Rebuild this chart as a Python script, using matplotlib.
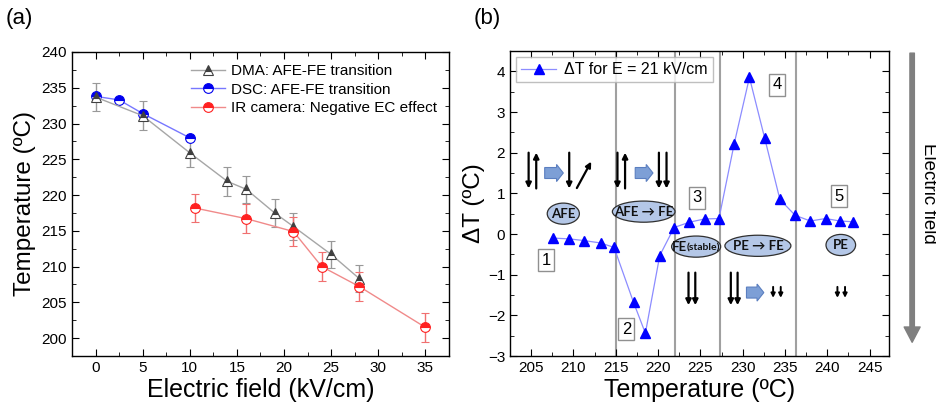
import numpy as np
import matplotlib
matplotlib.use("Agg")
import matplotlib.pyplot as plt
from matplotlib.patches import Ellipse, FancyArrow
from matplotlib.ticker import MultipleLocator

plt.rcParams['font.family'] = ['Liberation Sans', 'DejaVu Sans']

# ---- panel (a) data ----
dma_E = [0, 5, 10, 14, 16, 19, 21, 25, 28]
dma_T = [233.7, 231.1, 225.9, 221.9, 220.8, 217.5, 215.6, 211.7, 208.3]
dma_err = [2.0, 2.0, 2.0, 2.0, 1.9, 2.0, 1.9, 1.9, 1.9]

dsc_E = [0, 2.5, 5, 10]
dsc_T = [233.8, 233.3, 231.4, 228.0]

ir_E = [10.5, 16, 21, 24, 28, 35]
ir_T = [218.2, 216.7, 214.9, 210.0, 207.2, 201.5]
ir_err = [2.0, 2.0, 2.0, 2.0, 2.0, 2.0]

# ---- panel (b) data ----
temp_b = [207.6, 209.5, 211.2, 213.2, 214.8, 217.1, 218.5, 220.2, 221.9, 223.7, 225.5,
          227.2, 229.0, 230.8, 232.6, 234.4, 236.2, 238.0, 239.8, 241.5, 243.1]
dT_b = [-0.1, -0.12, -0.16, -0.22, -0.33, -1.68, -2.44, -0.53, 0.16, 0.29, 0.37,
        0.38, 2.22, 3.85, 2.36, 0.85, 0.46, 0.32, 0.38, 0.32, 0.30]
region_bounds = [215, 222, 227.3, 236.3]
region_labels = ['1', '2', '3', '4', '5']
region_label_pos = [(206.8, -0.64), (216.25, -2.34), (224.6, 0.89), (234.1, 3.67), (241.35, 0.93)]
phase_labels = ['AFE', 'AFE \u2192 FE', 'FE', 'PE \u2192 FE', 'PE']
phase_xy = [(208.8, 0.5), (218.3, 0.55), (224.5, -0.31), (231.8, -0.29), (241.6, -0.27)]
phase_w = [3.8, 7.4, 5.8, 7.8, 3.5]

fig = plt.figure(figsize=(9.37, 4.11), dpi=100)
ax1 = fig.add_axes([0.0768, 0.1338, 0.4024, 0.7397])
ax2 = fig.add_axes([0.5443, 0.1338, 0.4045, 0.7421])

for ax in (ax1, ax2):
    ax.tick_params(which='both', direction='in', top=True, right=True, labelsize=11)
    ax.tick_params(which='major', length=5)
    ax.tick_params(which='minor', length=3)
    for s in ax.spines.values():
        s.set_linewidth(1.0)

# panel (a)
h_dma = ax1.errorbar(dma_E, dma_T, yerr=dma_err, color='#a6a6a6', lw=1, ecolor='#999999',
                     elinewidth=1, capsize=3, marker='^', ms=7, fillstyle='top',
                     mfc='#404040', mfcalt='white', mec='#404040', mew=0.8,
                     label='DMA: AFE-FE transition')
h_dsc, = ax1.plot(dsc_E, dsc_T, color='#7777ff', lw=1, marker='o', ms=7, fillstyle='top',
                  mfc='#0000ee', mfcalt='white', mec='#0000ee', mew=0.8,
                  label='DSC: AFE-FE transition')
h_ir = ax1.errorbar(ir_E, ir_T, yerr=ir_err, color='#f08a8a', lw=1, ecolor='#f07070',
                    elinewidth=1, capsize=3, marker='o', ms=7, fillstyle='top',
                    mfc='#ff2020', mfcalt='white', mec='#ff2020', mew=0.8,
                    label='IR camera: Negative EC effect')
ax1.set_xlim(-2.5, 37.5)
ax1.set_ylim(197.5, 240)
ax1.xaxis.set_major_locator(MultipleLocator(5))
ax1.xaxis.set_minor_locator(MultipleLocator(2.5))
ax1.yaxis.set_major_locator(MultipleLocator(5))
ax1.yaxis.set_minor_locator(MultipleLocator(2.5))
ax1.set_xlabel('Electric field (kV/cm)', fontsize=18, labelpad=2)
ax1.set_ylabel('Temperature (\u00baC)', fontsize=17.5, labelpad=4)
ax1.legend([h_dma[0], h_dsc, h_ir[0]],
           ['DMA: AFE-FE transition', 'DSC: AFE-FE transition', 'IR camera: Negative EC effect'],
           loc='upper right', frameon=False, fontsize=11, handlelength=2.2,
           handletextpad=0.4, labelspacing=0.3, borderaxespad=0.4)
fig.text(0.006, 0.955, '(a)', fontsize=16, va='center', ha='left')

# panel (b)
for xb in region_bounds:
    ax2.axvline(xb, color='#a0a0a0', lw=1.5, zorder=1)
ax2.plot(temp_b, dT_b, color='#8c8cff', lw=0.9, marker='^', ms=7, mfc='#0000ff',
         mec='#0000ff', label='\u0394T for E = 21 kV/cm', zorder=4)
ax2.set_xlim(202.5, 247.3)
ax2.set_ylim(-3, 4.5)
ax2.xaxis.set_major_locator(MultipleLocator(5))
ax2.xaxis.set_minor_locator(MultipleLocator(2.5))
ax2.yaxis.set_major_locator(MultipleLocator(1))
ax2.yaxis.set_minor_locator(MultipleLocator(0.5))
ax2.set_xlabel('Temperature (\u00baC)', fontsize=18, labelpad=2)
ax2.set_ylabel('\u0394T (\u00baC)', fontsize=17.5, labelpad=2)
leg = ax2.legend(loc='upper left', fontsize=11.5, fancybox=False, handlelength=2.2,
                 handletextpad=0.5, borderaxespad=0.4, borderpad=0.3)
leg.get_frame().set_edgecolor('#b0b0b0')
leg.get_frame().set_linewidth(1.0)

for lab, (x, y) in zip(region_labels, region_label_pos):
    ax2.text(x, y, lab, fontsize=12, ha='center', va='center', zorder=5,
             bbox=dict(boxstyle='square,pad=0.2', fc='white', ec='#909090', lw=1))

efont = ['Lato', 'DejaVu Sans']
for lab, (x, y), w in zip(phase_labels, phase_xy, phase_w):
    ax2.add_patch(Ellipse((x, y), w, 0.52, fc='#b4c7e7', ec='#303030', lw=0.9, zorder=5))
    if lab == 'FE':
        # FE(stable): small subscript-like "(stable)"
        ax2.text(x - 1.1, y, 'FE', fontsize=9.5, fontweight='bold', ha='right',
                 va='center', family=efont, color='#111111', zorder=6)
        ax2.text(x - 1.15, y - 0.04, '(stable)', fontsize=7.5, fontweight='bold', ha='left',
                 va='center', family=efont, color='#111111', zorder=6)
    else:
        ax2.text(x, y, lab, fontsize=9.5, fontweight='bold', ha='center', va='center',
                 family=efont, color='#111111', zorder=6)


def dipole(x, y0, y1, lw=1.6, ms=8):
    ax2.annotate('', xy=(x, y1), xytext=(x, y0),
                 arrowprops=dict(arrowstyle='-|>', color='k', lw=lw, mutation_scale=ms,
                                 shrinkA=0, shrinkB=0), zorder=5)


def block_arrow(x0, x1, y):
    ax2.add_patch(FancyArrow(x0, y, x1 - x0, 0, width=0.27, head_width=0.42,
                             head_length=0.8, length_includes_head=True,
                             fc='#7d9fd6', ec='#5b7fc0', lw=0.8, zorder=5))


# region 1
dipole(204.7, 2.0, 1.12)
dipole(205.6, 1.12, 2.0)
block_arrow(206.6, 208.8, 1.5)
dipole(209.5, 2.0, 1.12)
ax2.annotate('', xy=(212.1, 1.78), xytext=(210.4, 1.13),
             arrowprops=dict(arrowstyle='-|>', color='k', lw=1.6, mutation_scale=8,
                             shrinkA=0, shrinkB=0))
# region 2
dipole(215.2, 2.0, 1.12)
dipole(216.1, 1.12, 2.0)
block_arrow(217.3, 219.4, 1.5)
dipole(220.1, 2.0, 1.12)
dipole(221.0, 2.0, 1.12)
# region 3
dipole(223.6, -0.95, -1.75)
dipole(224.4, -0.95, -1.75)
# region 4
dipole(228.6, -0.95, -1.75)
dipole(229.4, -0.95, -1.75)
block_arrow(230.45, 232.5, -1.44)
dipole(233.6, -1.3, -1.57, lw=1.4, ms=6)
dipole(234.5, -1.3, -1.57, lw=1.4, ms=6)
# region 5
dipole(241.2, -1.3, -1.57, lw=1.4, ms=6)
dipole(242.1, -1.3, -1.57, lw=1.4, ms=6)

# big field arrow outside the axes
ax2.annotate('', xy=(1.061, 0.045), xytext=(1.061, 0.993), xycoords='axes fraction',
             textcoords='axes fraction', annotation_clip=False,
             arrowprops=dict(arrowstyle='simple,head_length=1.1,head_width=1.15,tail_width=0.32',
                             mutation_scale=10, color='#7f7f7f', shrinkA=0, shrinkB=0))
ax2.text(1.103, 0.534, 'Electric field', transform=ax2.transAxes, rotation=-90,
         fontsize=13.5, ha='center', va='center')
fig.text(0.506, 0.955, '(b)', fontsize=16, va='center', ha='left')

fig.savefig('out.png', dpi=100)
